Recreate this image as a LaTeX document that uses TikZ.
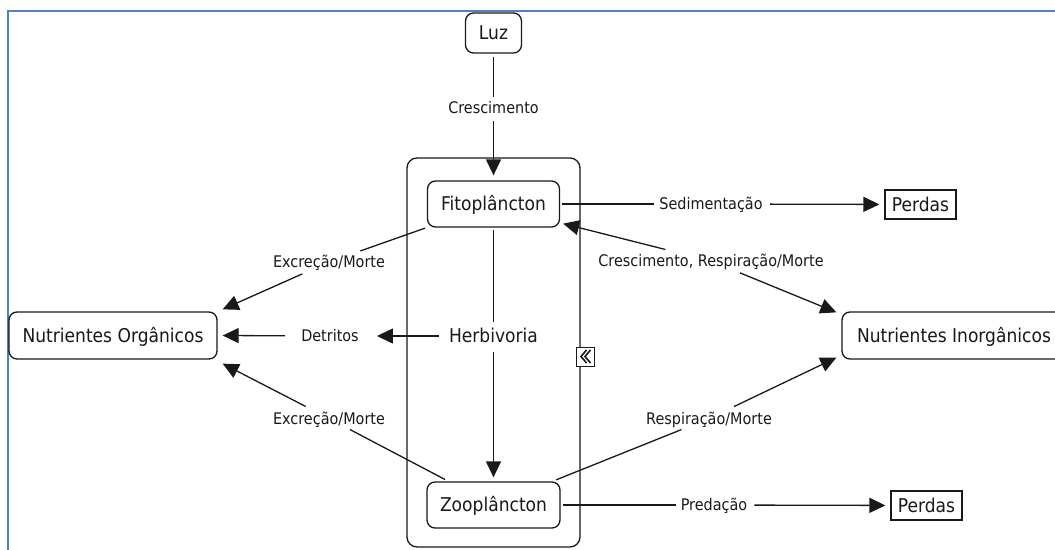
\documentclass[tikz,border=0pt]{standalone}
\usepackage{fontspec}
\newfontfamily\cmfont[FakeStretch=0.9]{DejaVu Sans}
\usetikzlibrary{arrows.meta}
\definecolor{framebl}{RGB}{79,129,189}
\definecolor{ink}{RGB}{25,25,25}
\tikzset{
  concept/.style={draw=ink, rounded corners=8pt, fill=white, line width=1.3pt,
    font=\cmfont\fontsize{19}{22}\selectfont, text=ink, text height=13.9pt, text depth=0pt, inner sep=0pt},
  perdabox/.style={draw=ink, fill=white, line width=1.3pt,
    font=\cmfont\fontsize{19}{22}\selectfont, text=ink, text height=13.9pt, text depth=0pt, inner sep=0pt},
  herbtext/.style={font=\cmfont\fontsize{19}{22}\selectfont, text=ink, text height=13.9pt, text depth=0pt,
    inner xsep=8pt, inner ysep=7pt},
  lab/.style={font=\cmfont\fontsize{16}{19}\selectfont, text=ink, text height=11.7pt, text depth=0pt,
    inner xsep=5pt, inner ysep=5pt},
  conn/.style={draw=ink, line width=1.3pt, shorten <=2pt},
  arrn/.style={conn, -{Triangle[length=16pt,width=15pt]}, shorten >=5pt},
  arrp/.style={conn, -{Triangle[length=16pt,width=15pt]}},
}
\begin{document}
\begin{tikzpicture}[x=1pt,y=-1pt]
\useasboundingbox (0,0) rectangle (1055,549);
\clip (0,0) rectangle (1055,549);
% outer frame (only top and left edges visible)
\draw[framebl, line width=2.2pt] (1070,11.3) -- (7.8,11.3) -- (7.8,570);
% group container
\node[draw=ink, line width=1.3pt, rounded corners=10pt, minimum width=173pt, minimum height=389pt, inner sep=0pt] (grp) at (493.5,352.5) {};

% concepts
\node[concept, minimum width=56pt, minimum height=40pt] (luz) at (493.5,33) {Luz};
\node[concept, minimum width=132pt, minimum height=46pt] (fito) at (493.5,204) {Fitoplâncton};
\node[concept, minimum width=133pt, minimum height=46pt] (zoo) at (493.5,505) {Zooplâncton};
\node[concept, minimum width=208pt, minimum height=47pt] (nuto) at (113,335.5) {Nutrientes Orgânicos};
\node[concept, minimum width=224pt, minimum height=47pt] (nuti) at (954,335.5) {Nutrientes Inorgânicos};
\node[perdabox, minimum width=71pt, minimum height=29pt] (perd1) at (920.5,204.5) {Perdas};
\node[perdabox, minimum width=71pt, minimum height=29pt] (perd2) at (926.5,505.5) {Perdas};
\node[herbtext] (herb) at (493.5,336) {Herbivoria};

% linking phrases
\node[lab] (lc) at (493.5,108) {Crescimento};
\node[lab] (sed) at (711,204) {Sedimentação};
\node[lab] (crm) at (711,261) {Crescimento, Respiração/Morte};
\node[lab] (ex1) at (329,262) {Excreção/Morte};
\node[lab] (ex2) at (329,418.5) {Excreção/Morte};
\node[lab] (rm) at (709,418.5) {Respiração/Morte};
\node[lab, inner xsep=14pt] (detr) at (330,336) {Detritos};
\node[lab] (pred) at (714,505) {Predação};

% connectors
\draw[conn, shorten <=3pt] (luz) -- (lc);
\draw[arrn] (lc) -- (fito);
\draw[conn] (fito) -- (sed);
\draw[arrn] (sed) -- (perd1);
\draw[arrp] (crm) -- ([shift={(3,-4)}]fito.south east);
\draw[arrp] (crm) -- ([shift={(-5,1)}]nuti.north west);
\draw[conn] (fito) -- (ex1);
\draw[arrp] (ex1) -- ([shift={(5,-2)}]nuto.north east);
\draw[conn] (fito) -- (herb);
\draw[arrn, shorten >=4pt] (herb) -- (zoo);
\draw[arrp] (herb) -- ([xshift=4pt]detr.east);
\draw[arrp] (detr) -- ([shift={(5,0)}]nuto.east);
\draw[conn, shorten <=4pt] (zoo) -- (ex2);
\draw[arrp] (ex2) -- ([shift={(5,4)}]nuto.south east);
\draw[conn, shorten <=4pt] (zoo) -- (rm);
\draw[arrp] (rm) -- ([shift={(-5,-2)}]nuti.south west);
\draw[conn] (zoo) -- (pred);
\draw[arrn] (pred) -- (perd2);

% collapse icon on the container
\node[draw=ink, fill=white, line width=1pt, minimum width=18pt, minimum height=19pt, inner sep=0pt] (coll) at (585.5,356.5) {};
\draw[ink, line width=1.6pt] ([shift={(1,-6.5)}]coll.center) -- ([shift={(-4.5,0)}]coll.center) -- ([shift={(1,6.5)}]coll.center);
\draw[ink, line width=1.6pt] ([shift={(5,-6.5)}]coll.center) -- ([shift={(-0.5,0)}]coll.center) -- ([shift={(5,6.5)}]coll.center);
\end{tikzpicture}
\end{document}
